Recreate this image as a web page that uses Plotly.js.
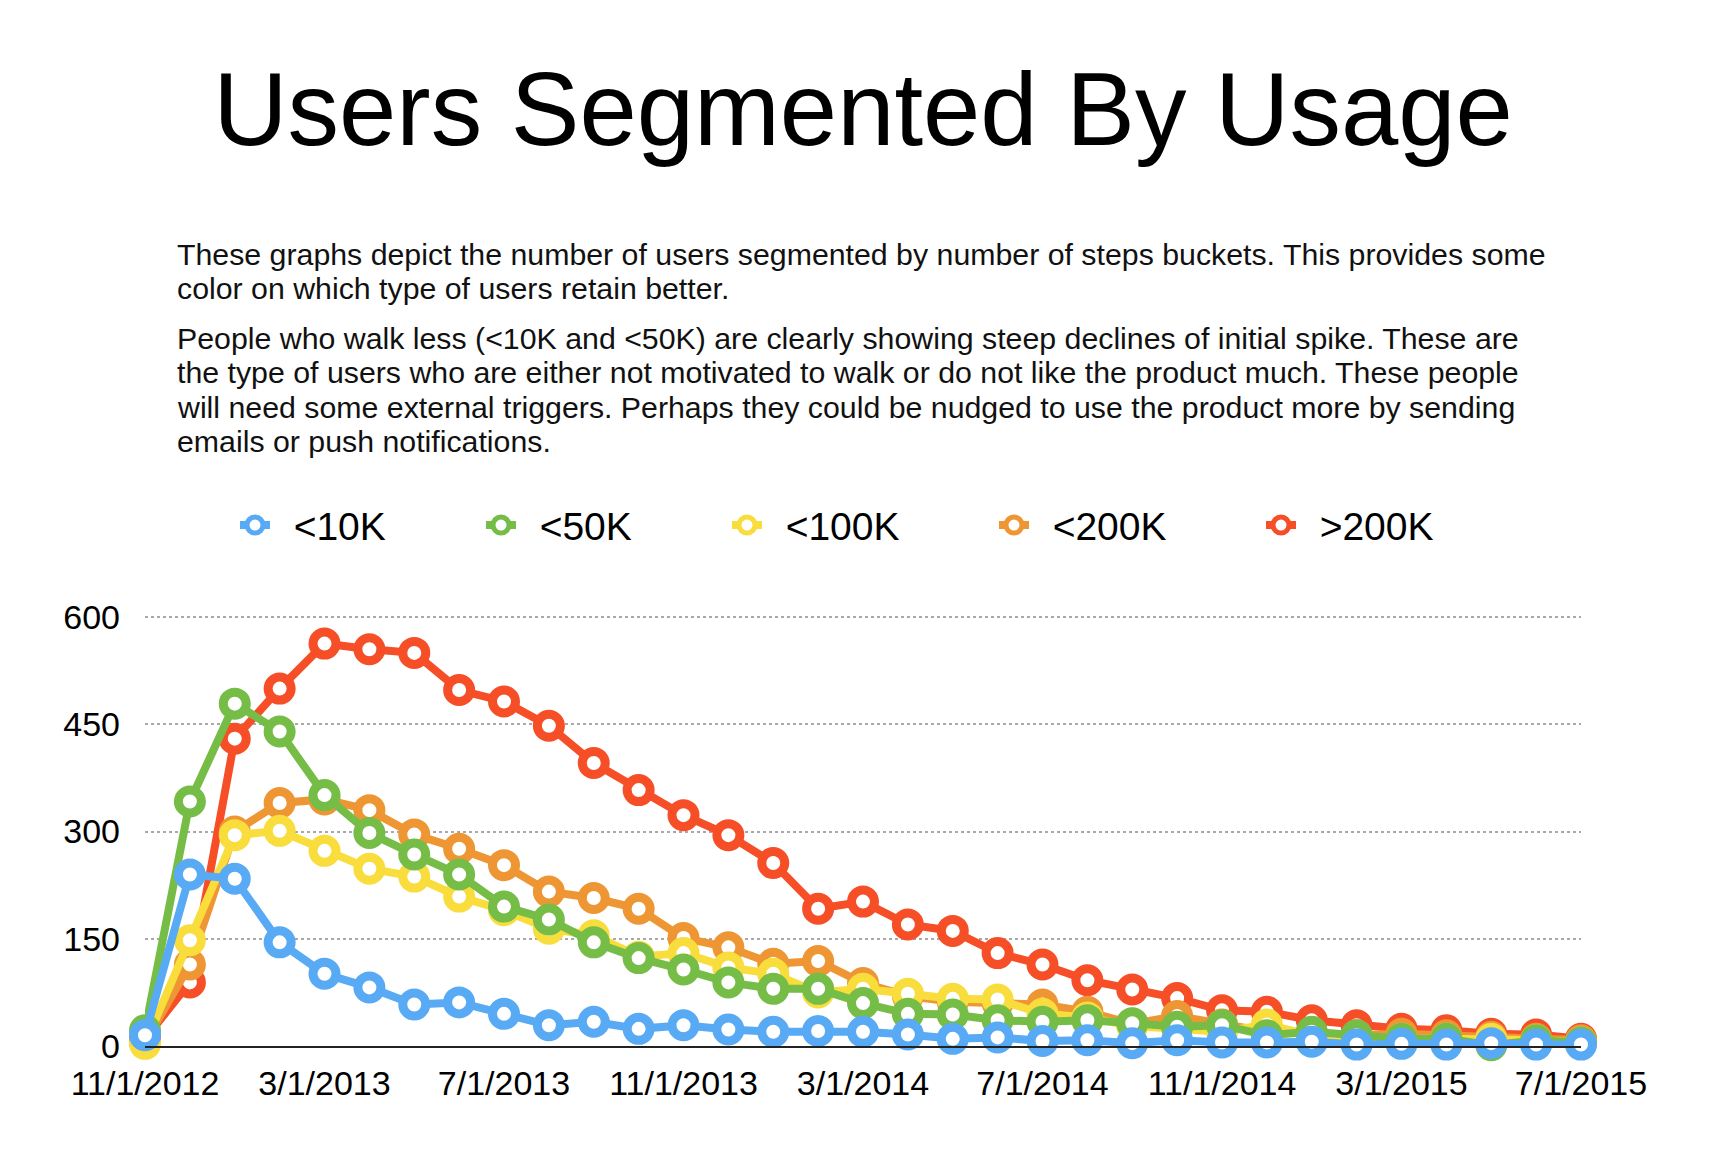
<!DOCTYPE html>
<html>
<head>
<meta charset="utf-8">
<script src="https://cdn.plot.ly/plotly-3.0.1.min.js"></script>
<style>
html, body { margin: 0; padding: 0; background: #ffffff; }
#chart { width: 1710px; height: 1156px; }
</style>
</head>
<body>
<div id="chart"></div>
<script>
// ---- Data ----
const months = [
  '11/1/2012','12/1/2012','1/1/2013','2/1/2013','3/1/2013','4/1/2013','5/1/2013','6/1/2013',
  '7/1/2013','8/1/2013','9/1/2013','10/1/2013','11/1/2013','12/1/2013','1/1/2014','2/1/2014',
  '3/1/2014','4/1/2014','5/1/2014','6/1/2014','7/1/2014','8/1/2014','9/1/2014','10/1/2014',
  '11/1/2014','12/1/2014','1/1/2015','2/1/2015','3/1/2015','4/1/2015','5/1/2015','6/1/2015','7/1/2015'
];
const tickLabels = ['11/1/2012','3/1/2013','7/1/2013','11/1/2013','3/1/2014','7/1/2014','11/1/2014','3/1/2015','7/1/2015'];
const yTicks = [0, 150, 300, 450, 600];

const under10K  = [15,240,234,145,101,82,58,61,45,29,34,24,29,23,20,21,20,16,10,12,7,8,4,8,5,5,6,2,3,2,4,2,2];
const under50K  = [22,342,479,440,351,298,268,240,195,177,145,123,107,89,80,80,60,45,44,36,34,36,32,27,29,15,20,15,10,10,1,8,5];
const under100K = [3,148,295,301,273,248,237,209,190,164,155,125,130,110,101,75,80,73,66,65,45,40,28,24,20,30,15,13,10,10,10,8,5];
const under200K = [5,114,300,340,345,330,296,276,253,216,207,192,151,138,115,119,88,70,62,60,58,48,31,42,30,20,17,15,17,15,13,10,8];
const over200K  = [10,89,430,500,563,555,550,498,482,448,396,358,323,295,256,192,202,170,161,130,114,92,79,67,50,48,36,29,24,22,17,16,10];

const seriesNames = ['&lt;10K', '&lt;50K', '&lt;100K', '&lt;200K', '&gt;200K'];
const seriesValues = [under10K, under50K, under100K, under200K, over200K];
const seriesColors = ['#58aaf5', '#75bd47', '#f9dd3d', '#ee9633', '#f64f27'];

const titleText = 'Users Segmented By Usage';
const paragraphLines = [
  'These graphs depict the number of users segmented by number of steps buckets. This provides some',
  'color on which type of users retain better.',
  'People who walk less (&lt;10K and &lt;50K) are clearly showing steep declines of initial spike. These are',
  'the type of users who are either not motivated to walk or do not like the product much. These people',
  'will need some external triggers. Perhaps they could be nudged to use the product more by sending',
  'emails or push notifications.'
];

// ---- Layout geometry (pixels) ----
const W = 1710, H = 1156;
const yMax = 603;
const plotL = 145, plotR = 1581, plotB = 1046, grid600 = 617;
const plotT = plotB - (plotB - grid600) * yMax / 600;
const pw = plotR - plotL, ph = plotB - plotT;
const FONT = 'Liberation Sans, Arial, Helvetica, sans-serif';
const px2x = p => (p - plotL) / pw;
const py2y = p => (plotB - p) / ph;

const lineTops = [254, 288, 338, 372, 407, 441];
const legendCenters = [255, 501, 747, 1014, 1281];
const legendY = 525;

// draw order: red at bottom, blue on top
const traces = [];
const legendKeys = ['legend', 'legend2', 'legend3', 'legend4', 'legend5'];
for (let k = seriesValues.length - 1; k >= 0; k--) {
  traces.push({
    type: 'scatter',
    mode: 'lines+markers',
    x: months,
    y: seriesValues[k],
    name: '\u00a0\u2009' + seriesNames[k],
    legend: legendKeys[k],
    line: { color: seriesColors[k], width: 8 },
    marker: { symbol: 'circle', size: 23, color: '#ffffff', line: { color: seriesColors[k], width: 9 } },
    cliponaxis: false,
    hoverinfo: 'skip'
  });
}

const layout = {
  width: W, height: H,
  paper_bgcolor: '#ffffff', plot_bgcolor: '#ffffff',
  margin: { l: plotL, r: W - plotR, t: plotT, b: H - plotB, pad: 0 },
  font: { family: FONT, color: '#000000' },
  title: {
    text: titleText,
    font: { family: FONT, size: 103, color: '#000000' },
    x: 0.5, xref: 'paper', xanchor: 'center',
    y: 1 - 109 / H, yref: 'container', yanchor: 'middle'
  },
  xaxis: {
    type: 'category',
    range: [0, months.length - 1],
    tickmode: 'array',
    tickvals: tickLabels,
    ticktext: tickLabels,
    showgrid: false,
    zeroline: false,
    showline: true,
    linecolor: '#222222',
    linewidth: 2,
    ticks: '',
    ticklabelstandoff: 6,
    tickfont: { family: FONT, size: 34, color: '#000000' },
    fixedrange: true
  },
  yaxis: {
    range: [0, yMax],
    tickmode: 'array',
    tickvals: yTicks,
    ticktext: yTicks.map(String),
    showgrid: true,
    gridcolor: '#a8a8a8',
    gridwidth: 2,
    griddash: '3px,3px',
    zeroline: false,
    showline: false,
    ticks: '',
    ticklabelstandoff: 24,
    tickfont: { family: FONT, size: 34, color: '#000000' },
    fixedrange: true
  },
  annotations: paragraphLines.map((t, i) => ({
    text: t,
    xref: 'paper', yref: 'paper',
    x: px2x(175), y: py2y(lineTops[i]),
    xanchor: 'left', yanchor: 'middle',
    showarrow: false,
    font: { family: FONT, size: 30.3, color: '#111111' }
  })),
  showlegend: true
};

legendKeys.forEach((key, k) => {
  layout[key] = {
    orientation: 'h',
    x: px2x(legendCenters[k] - 20), xanchor: 'left',
    y: py2y(legendY), yanchor: 'middle',
    bgcolor: 'rgba(0,0,0,0)',
    borderwidth: 0,
    itemwidth: 30,
    font: { family: FONT, size: 39, color: '#000000' }
  };
});

Plotly.newPlot('chart', traces, layout, { staticPlot: true, displayModeBar: false });
</script>
</body>
</html>
